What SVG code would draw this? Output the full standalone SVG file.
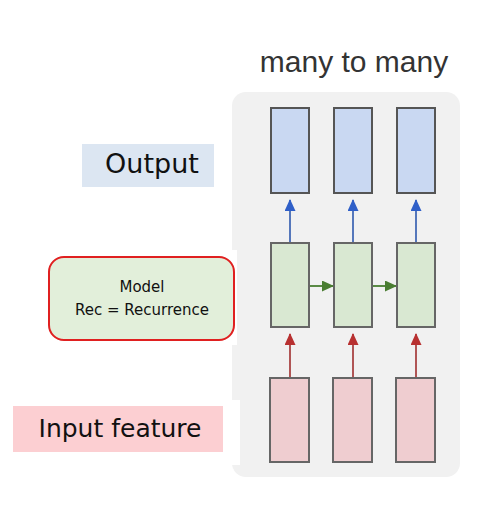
<svg xmlns="http://www.w3.org/2000/svg" width="479" height="511" viewBox="0 0 479 511">
<style>
.title{font-family:"Liberation Sans",Arial,sans-serif;font-size:30px;fill:#333;}
.hand{font-family:"DejaVu Sans","Liberation Sans",sans-serif;fill:#111;}
.blue{fill:#c9d8f2;stroke:#555;stroke-width:2;}
.green{fill:#d9e8d2;stroke:#666;stroke-width:2;}
.pink{fill:#efcdd0;stroke:#666;stroke-width:2;}
</style>
<defs>
<marker id="ab" markerWidth="12" markerHeight="12" refX="11" refY="5.5" orient="auto" markerUnits="userSpaceOnUse"><path d="M0,0 L12,5.5 L0,11 z" fill="#2f5fc8"/></marker>
<marker id="ar" markerWidth="12" markerHeight="12" refX="11" refY="5.5" orient="auto" markerUnits="userSpaceOnUse"><path d="M0,0 L12,5.5 L0,11 z" fill="#b83030"/></marker>
<marker id="ag" markerWidth="12" markerHeight="12" refX="11" refY="5.5" orient="auto" markerUnits="userSpaceOnUse"><path d="M0,0 L12,5.5 L0,11 z" fill="#4a7d32"/></marker>
</defs>
<rect width="479" height="511" fill="#fff"/>
<rect x="232" y="92" width="228" height="385" rx="14" fill="#f1f1f1"/>
<rect x="40" y="250" width="197" height="95" fill="#fff"/>
<rect x="10" y="400" width="230" height="65" fill="#fff"/>
<text class="title" x="354" y="72" text-anchor="middle">many to many</text>
<g id="connectors">
<g stroke="#5577bb" stroke-width="2">
<line x1="290" y1="243" x2="290" y2="200" marker-end="url(#ab)"/>
<line x1="353" y1="243" x2="353" y2="200" marker-end="url(#ab)"/>
<line x1="416" y1="243" x2="416" y2="200" marker-end="url(#ab)"/>
</g>
<g stroke="#b05555" stroke-width="2">
<line x1="290" y1="378" x2="290" y2="334" marker-end="url(#ar)"/>
<line x1="353" y1="378" x2="353" y2="334" marker-end="url(#ar)"/>
<line x1="416" y1="378" x2="416" y2="334" marker-end="url(#ar)"/>
</g>
<g stroke="#5a8a45" stroke-width="2">
<line x1="310" y1="286" x2="333" y2="286" marker-end="url(#ag)"/>
<line x1="373" y1="286" x2="396" y2="286" marker-end="url(#ag)"/>
</g>
</g>
<g id="out1"><rect class="blue" x="271" y="108" width="38" height="85"/></g>
<g id="out2"><rect class="blue" x="334" y="108" width="38" height="85"/></g>
<g id="out3"><rect class="blue" x="397" y="108" width="38" height="85"/></g>
<g id="rec1"><rect class="green" x="271" y="243" width="38" height="84"/></g>
<g id="rec2"><rect class="green" x="334" y="243" width="38" height="84"/></g>
<g id="rec3"><rect class="green" x="397" y="243" width="38" height="84"/></g>
<g id="in1"><rect class="pink" x="270" y="378" width="39" height="84"/></g>
<g id="in2"><rect class="pink" x="333" y="378" width="39" height="84"/></g>
<g id="in3"><rect class="pink" x="396" y="378" width="39" height="84"/></g>
<g id="label-output">
<rect x="82" y="144" width="132" height="43" fill="#dce6f2"/>
<text class="hand" x="152" y="173" font-size="27" text-anchor="middle">Output</text>
</g>
<g id="label-model">
<rect x="49" y="257" width="185" height="83" rx="15" fill="#e2efda" stroke="#e02020" stroke-width="2"/>
<text class="hand" x="142" y="292" font-size="15" text-anchor="middle">Model</text>
<text class="hand" x="142" y="315" font-size="15" text-anchor="middle">Rec = Recurrence</text>
</g>
<g id="label-input">
<rect x="13" y="406" width="210" height="46" fill="#fccfd2"/>
<text class="hand" x="120" y="437" font-size="25" text-anchor="middle">Input feature</text>
</g>
</svg>
